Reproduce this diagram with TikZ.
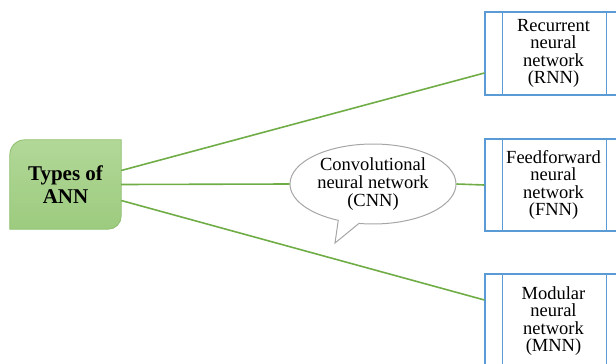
\documentclass[tikz,border=0pt]{standalone}
\usepackage{fontspec}
\setmainfont{Liberation Serif}
\usetikzlibrary{shapes.callouts}
\definecolor{linkgreen}{HTML}{70AD47}
\definecolor{boxblue}{HTML}{5B9BD5}
\definecolor{annlight}{HTML}{B2D898}
\definecolor{anndark}{HTML}{9CCB7E}
\definecolor{annedge}{HTML}{8DBF6C}
\definecolor{bubbleedge}{HTML}{A6A6A6}
\tikzset{
  link/.style={draw=linkgreen, line width=1.6pt},
  kindbox/.style={draw=boxblue, fill=white, line width=1.2pt, inner sep=0pt,
    align=center, font=\fontsize{18.5}{17.5}\selectfont},
  bar/.style={draw=boxblue, line width=1.2pt},
  bubble/.style={ellipse callout, draw=bubbleedge, fill=white, line width=1pt,
    inner sep=0pt, minimum width=166pt, minimum height=80pt, align=center,
    font=\fontsize{18.5}{18}\selectfont},
  roottext/.style={align=center, inner sep=0pt, minimum width=111pt,
    minimum height=89pt, font=\fontsize{21}{23}\selectfont\bfseries}
}
\begin{document}
\begin{tikzpicture}[x=1pt, y=-1pt]
  \useasboundingbox (0,0) rectangle (616,364);
  \clip (0,0) rectangle (616,364);

  % root node: rectangle with two diagonal rounded corners
  \node[roottext] (ann) at (65.5,184.5) {};
  \draw[annedge, line width=0.8pt, top color=annlight, bottom color=anndark]
    (ann.south west) -- ([yshift=-15pt]ann.north west)
    arc[start angle=180, end angle=90, radius=15pt]
    -- (ann.north east) -- ([yshift=13pt]ann.south east)
    arc[start angle=0, end angle=-90, radius=13pt] -- cycle;
  \node[roottext] at (ann.center) {Types of\\ANN};

  % the three network kinds on the right (process boxes)
  \node[kindbox, minimum width=137pt, minimum height=83pt] (rnn) at (553.5,53.5)
    {Recurrent\\neural\\network\\(RNN)};
  \node[kindbox, minimum width=137pt, minimum height=92pt] (fnn) at (553.5,185)
    {Feedforward\\neural\\network\\(FNN)};
  \node[kindbox, minimum width=137pt, minimum height=94pt] (mnn) at (553.5,321)
    {Modular\\neural\\network\\(MNN)};
  \foreach \b in {rnn,fnn,mnn}{
    \draw[bar] ([xshift=18pt]\b.north west) -- ([xshift=18pt]\b.south west);
    \draw[bar] ([xshift=-16pt]\b.north east) -- ([xshift=-16pt]\b.south east);
  }

  % speech bubble
  \node[bubble, callout absolute pointer={(335,243)}] (cnn) at (373,184)
    {Convolutional\\neural network\\(CNN)};

  % connectors
  \draw[link] ([yshift=14pt]ann.east) -- ([yshift=-19.5pt]rnn.west);
  \draw[link] (ann.east) -- (cnn.west);
  \draw[link] (cnn.east) -- (fnn.west);
  \draw[link] ([yshift=-16pt]ann.east) -- ([yshift=21pt]mnn.west);
\end{tikzpicture}
\end{document}
